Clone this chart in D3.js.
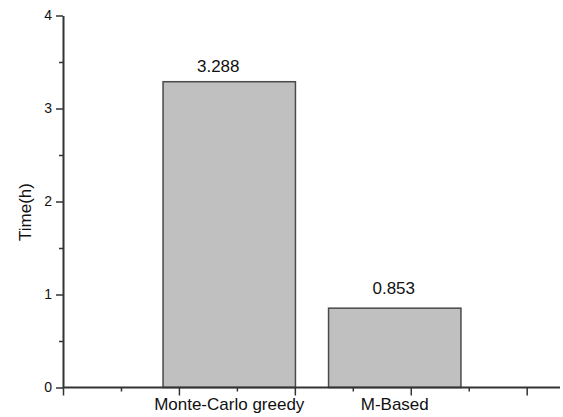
<!DOCTYPE html>
<html>
<head>
<meta charset="utf-8">
<script src="https://cdn.jsdelivr.net/npm/d3@7"></script>
<style>
  html, body { margin: 0; padding: 0; background: #fff; }
  svg { display: block; font-family: "Liberation Sans", Arial, Helvetica, sans-serif; }
</style>
</head>
<body>
<svg id="chart" width="563" height="417"></svg>
<script>
const categories = ["Monte-Carlo greedy", "M-Based"];
const timeHours = [3.288, 0.853];
const valueLabels = ["3.288", "0.853"];
const yTicks = [0, 1, 2, 3, 4];
const yMinorTicks = [0.5, 1.5, 2.5, 3.5];
const xAxisTicks = [0, 1, 2, 3, 4];
const xAxisMinorTicks = [0.5, 1.5, 2.5, 3.5];
const yTitle = "Time(h)";

const svg = d3.select("#chart");
const axisColor = "#333";

const y = d3.scaleLinear().domain([0, 4]).range([387.5, 15.5]);
const xAxisScale = d3.scaleLinear().domain([0, 4]).range([63, 526.7]);
const xBand = d3.scaleBand().domain(categories).range([146.5, 477.5])
  .paddingInner(0.2).paddingOuter(0.1);

// Bars
svg.append("g").selectAll("rect")
  .data(categories)
  .join("rect")
  .attr("x", d => xBand(d))
  .attr("width", xBand.bandwidth())
  .attr("y", (d, i) => y(timeHours[i]))
  .attr("height", (d, i) => y(0) - y(timeHours[i]))
  .attr("fill", "#c0c0c0")
  .attr("stroke", "#4a4a4a")
  .attr("stroke-width", 1.5);

// Value labels
const labelDx = [-11, -1];
const labelDy = [-10, -14];
svg.append("g").selectAll("text")
  .data(categories)
  .join("text")
  .attr("x", (d, i) => xBand(d) + xBand.bandwidth() / 2 + labelDx[i])
  .attr("y", (d, i) => y(timeHours[i]) + labelDy[i])
  .attr("text-anchor", "middle")
  .attr("font-size", 17)
  .attr("fill", "#111")
  .text((d, i) => valueLabels[i]);

// Y axis minor ticks
const yMinor = svg.append("g").attr("transform", "translate(63,0)")
  .call(d3.axisLeft(y).tickValues(yMinorTicks).tickSize(4).tickFormat(""));
yMinor.select(".domain").remove();
// Y axis major
const yAxis = svg.append("g").attr("transform", "translate(63,0)")
  .call(d3.axisLeft(y).tickValues(yTicks).tickSize(7).tickPadding(4).tickSizeOuter(0).tickFormat(d3.format("d")));
yAxis.selectAll("text").attr("font-size", 14).attr("fill", "#111")
  .attr("font-family", "Liberation Sans, Arial, sans-serif");
[yAxis, yMinor].forEach(g => {
  g.selectAll("line").attr("stroke", axisColor).attr("stroke-width", 1.5);
});
yAxis.select(".domain").attr("stroke", axisColor).attr("stroke-width", 2);

// X axis
const xMinor = svg.append("g").attr("transform", "translate(0,387.5)")
  .call(d3.axisBottom(xAxisScale).tickValues(xAxisMinorTicks).tickSize(4).tickFormat(""));
xMinor.select(".domain").remove();
const xAxis = svg.append("g").attr("transform", "translate(0,387.5)")
  .call(d3.axisBottom(xAxisScale).tickValues(xAxisTicks).tickSize(8).tickFormat(""));
xAxis.select(".domain").remove();
[xAxis, xMinor].forEach(g => {
  g.selectAll("line").attr("stroke", axisColor).attr("stroke-width", 1.5);
});
svg.append("line")
  .attr("x1", xAxisScale(0)).attr("x2", 560)
  .attr("y1", y(0)).attr("y2", y(0))
  .attr("stroke", axisColor).attr("stroke-width", 2);

// Category labels
svg.append("g").selectAll("text")
  .data(categories)
  .join("text")
  .attr("x", d => xBand(d) + xBand.bandwidth() / 2)
  .attr("y", 410)
  .attr("text-anchor", "middle")
  .attr("font-size", 17)
  .attr("fill", "#111")
  .text(d => d);

// Y title
svg.append("text")
  .attr("transform", "translate(31,212) rotate(-90)")
  .attr("text-anchor", "middle")
  .attr("font-size", 17)
  .attr("fill", "#111")
  .text(yTitle);
</script>
</body>
</html>
